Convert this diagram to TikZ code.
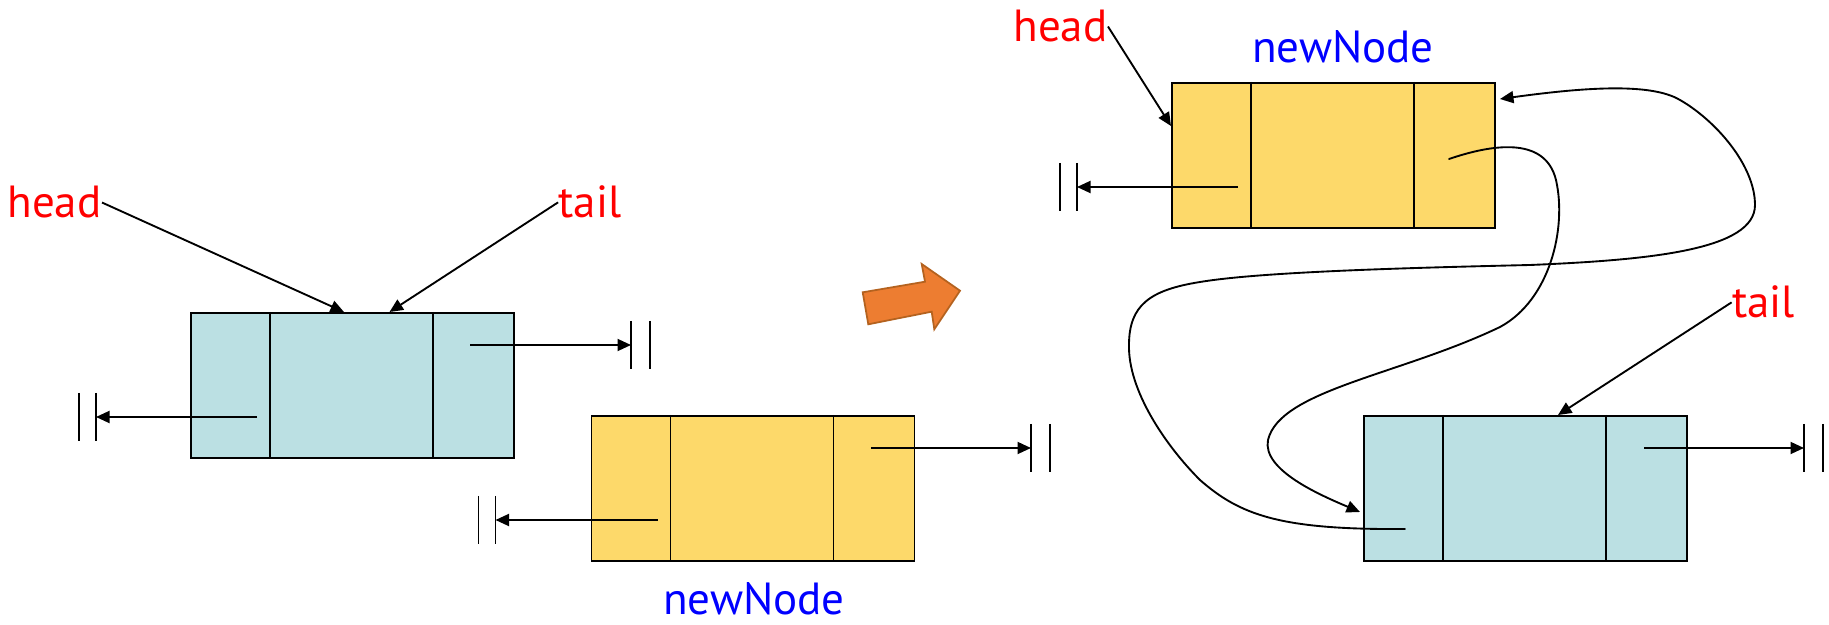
\documentclass[tikz,border=0pt]{standalone}
\usepackage{fontspec}
\setmainfont{PT Sans}
\usetikzlibrary{arrows.meta}
\definecolor{cellblue}{HTML}{BBE0E3}
\definecolor{cellgold}{HTML}{FDD96A}
\definecolor{bigarrow}{HTML}{ED7D31}
\definecolor{bigarrowedge}{HTML}{B4621F}

\tikzset{
  listbox/.style={draw=black, line width=0.7pt, inner sep=0pt,
    minimum width=129.2pt, minimum height=58pt, anchor=north west},
  divider/.style={draw=black, line width=0.7pt},
  ptr/.style={draw=black, line width=0.75pt, -{Triangle[length=5.4pt,width=4.8pt]}},
  link/.style={ptr, line cap=round},
  lbl/.style={inner sep=0pt, anchor=base, font=\fontsize{18pt}{20pt}\selectfont},
  varname/.style={lbl, text=red},
  nodename/.style={lbl, text=blue},
  nullL/.pic={\draw[line width=0.7pt] (0,-24) -- (0,24) (-17,-24) -- (-17,24);},
  nullR/.pic={\draw[line width=0.7pt] (0,-24) -- (0,24) (19,-24) -- (19,24);},
}

\begin{document}
\begin{tikzpicture}[x=0.4pt, y=-0.4pt]
\useasboundingbox (0,0) rectangle (1829,625);

% ---------- before insertion ----------
\node[listbox, fill=cellblue] (oldA) at (190,312) {};
\draw[divider] ([xshift=32pt]oldA.north west) -- ([xshift=32pt]oldA.south west)
               ([xshift=97.2pt]oldA.north west) -- ([xshift=97.2pt]oldA.south west);

\node[listbox, fill=cellgold] (newA) at (590.5,415) {};
\draw[divider] ([xshift=32pt]newA.north west) -- ([xshift=32pt]newA.south west)
               ([xshift=97.2pt]newA.north west) -- ([xshift=97.2pt]newA.south west);

\node[varname] (headA) at (54.5,218) {head};
\node[varname] (tailA) at (590,218) {tail};
\node[nodename] (nameA) at (754,615) {newNode};

\coordinate (oldAprev) at (257,417);
\coordinate (oldAnext) at (470,345);
\coordinate (oldAnullL) at (96,417);
\coordinate (oldAnullR) at (631,345);
\coordinate (oldAtop1) at (344,312);
\coordinate (oldAtop2) at (389.5,312);

\coordinate (newAprev) at (657.7,520);
\coordinate (newAnext) at (871,448);
\coordinate (newAnullL) at (495.5,520);
\coordinate (newAnullR) at (1031,448);

\draw[ptr] (headA.east) -- (oldAtop1);
\draw[ptr] (tailA.west) -- (oldAtop2);
\draw[ptr] (oldAprev) -- (oldAnullL);
\draw[ptr] (oldAnext) -- (oldAnullR);
\draw[ptr] (newAprev) -- (newAnullL);
\draw[ptr] (newAnext) -- (newAnullR);
\pic at (oldAnullL) {nullL};
\pic at (oldAnullR) {nullR};
\pic at (newAnullL) {nullL};
\pic at (newAnullR) {nullR};

% ---------- block arrow ----------
\filldraw[fill=bigarrow, draw=bigarrowedge, line width=0.7pt, line join=miter]
  (868.3,324.3) -- (862.7,292.3) -- (925,281.7) -- (921.7,264) -- (960,290.7)
  -- (934.3,329.3) -- (931.7,311.7) -- cycle;

% ---------- after insertion ----------
\node[listbox, fill=cellgold] (newB) at (1171,82) {};
\draw[divider] ([xshift=32pt]newB.north west) -- ([xshift=32pt]newB.south west)
               ([xshift=97.2pt]newB.north west) -- ([xshift=97.2pt]newB.south west);

\node[listbox, fill=cellblue] (oldB) at (1363,415) {};
\draw[divider] ([xshift=32pt]oldB.north west) -- ([xshift=32pt]oldB.south west)
               ([xshift=97.2pt]oldB.north west) -- ([xshift=97.2pt]oldB.south west);

\node[varname] (headB) at (1060.5,42) {head};
\node[nodename] (nameB) at (1343,63) {newNode};
\node[varname] (tailB) at (1763.5,318) {tail};

\coordinate (newBprev) at (1238,187);
\coordinate (newBnullL) at (1077,187);
\coordinate (newBnext) at (1449,159);
\coordinate (newBin) at (1500,99);
\coordinate (newBside) at (1171,126);

\coordinate (oldBprev) at (1405,529);
\coordinate (oldBin) at (1360,512);
\coordinate (oldBnext) at (1644,448);
\coordinate (oldBnullR) at (1804,448);
\coordinate (oldBtop) at (1558,415);

\draw[ptr] (headB.east) -- (newBside);
\draw[ptr] (tailB.west) -- (oldBtop);
\draw[ptr] (newBprev) -- (newBnullL);
\draw[ptr] (oldBnext) -- (oldBnullR);
\pic at (newBnullL) {nullL};
\pic at (oldBnullR) {nullR};

% newNode.next -> old node
\draw[link] (newBnext)
  .. controls (1490,145) and (1545,135) .. (1556,180)
  .. controls (1567,228) and (1550,300) .. (1500,327)
  .. controls (1400,375) and (1280,390) .. (1268,440)
  .. controls (1262,470) and (1320,495) .. (oldBin);

% old node.prev -> newNode
\draw[link] (oldBprev)
  .. controls (1280,530) and (1240,515) .. (1200,480)
  .. controls (1165,445) and (1128,390) .. (1129,345)
  .. controls (1129,305) and (1150,290) .. (1200,282)
  .. controls (1260,272) and (1400,268) .. (1530,265)
  .. controls (1650,260) and (1755,250) .. (1755,205)
  .. controls (1755,165) and (1715,120) .. (1680,100)
  .. controls (1650,82) and (1580,88) .. (newBin);
\end{tikzpicture}
\end{document}
